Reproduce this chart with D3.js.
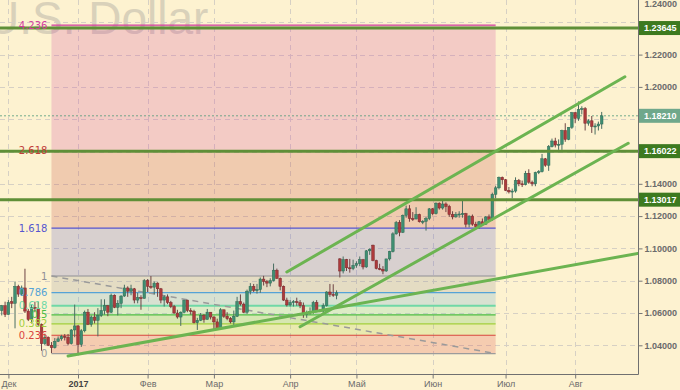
<!DOCTYPE html>
<html lang="ru">
<head>
<meta charset="UTF-8">
<title>EUR/USD D1</title>
<script src="https://cdn.jsdelivr.net/npm/d3@7"></script>
<style>
	body { margin: 0; background: #fdf2d0; }
	svg { display: block; }
</style>
</head>
<body>
<div id="chart"></div>
<script>
// дневные свечи, индекс 0 = 3 янв 2017 (праздники пропущены)
var startIndex = -24;
var opens = [
	// ноя-дек 2016
	1.0590,1.0615,1.0645,1.0590,1.0670,1.0660,1.0765,1.0717,1.0755,1.0612,1.0560,1.0635,1.0630,1.0530,1.0410,1.0450,1.0400,1.0385,1.0425,1.0440,1.0455,1.0450,1.0410,1.0495,
	// янв
	1.0520,1.0405,1.0490,1.0605,1.0530,1.0575,1.0555,1.0585,1.0615,1.0645,1.0605,1.0710,1.0635,1.0660,1.0705,1.0755,1.0735,1.0750,1.0680,1.0695,1.0690,
	// фев
	1.0800,1.0765,1.0760,1.0785,1.0750,1.0680,1.0700,1.0665,1.0640,1.0600,1.0575,1.0605,1.0680,1.0615,1.0610,1.0540,1.0555,1.0585,1.0560,1.0605,
	// мар
	1.0575,1.0545,1.0505,1.0620,1.0580,1.0565,1.0545,1.0580,1.0670,1.0655,1.0605,1.0735,1.0765,1.0740,1.0745,1.0810,1.0795,1.0785,1.0800,1.0865,1.0815,1.0765,1.0680,
	// апр
	1.0650,1.0665,1.0670,1.0665,1.0645,1.0590,1.0600,1.0610,1.0665,1.0615,1.0612,1.0645,1.0730,1.0715,1.0710,1.0935,1.0860,1.0930,1.0880,1.0875,
	// май
	1.0895,1.0905,1.0930,1.0885,1.0985,1.1020,1.0925,1.0875,1.0870,1.0860,1.0935,1.0980,1.1090,1.1160,1.1100,1.1205,1.1245,1.1185,1.1182,1.1210,1.1165,1.1168,1.1185,
	// июн
	1.1245,1.1215,1.1280,1.1250,1.1275,1.1260,1.1210,1.1195,1.1210,1.1213,1.1215,1.1150,1.1200,1.1150,1.1135,1.1165,1.1150,1.1195,1.1180,1.1335,1.1375,1.1440,
	// июл
	1.1425,1.1360,1.1350,1.1355,1.1420,1.1400,1.1395,1.1465,1.1410,1.1400,1.1470,1.1475,1.1555,1.1515,1.1630,1.1665,1.1640,1.1645,1.1730,1.1675,1.1750,
	// авг
	1.1840,1.1805,1.1860,1.1865,1.1775,1.1790,1.1755,1.1758,1.1770
];
var highs = [
	1.0652,1.0650,1.0670,1.0680,1.0700,1.0795,1.0775,1.0770,1.0874,1.0625,1.0650,1.0670,1.0668,1.0535,1.0472,1.0455,1.0420,1.0445,1.0455,1.0465,1.0470,1.0470,1.0500,1.0652,
	1.0525,1.0500,1.0615,1.0625,1.0585,1.0605,1.0630,1.0685,1.0685,1.0650,1.0720,1.0715,1.0680,1.0710,1.0775,1.0765,1.0775,1.0755,1.0725,1.0710,1.0810,
	1.0810,1.0829,1.0795,1.0790,1.0755,1.0710,1.0715,1.0675,1.0650,1.0620,1.0610,1.0680,1.0680,1.0630,1.0620,1.0570,1.0600,1.0595,1.0625,1.0605,
	1.0580,1.0565,1.0630,1.0620,1.0605,1.0575,1.0615,1.0700,1.0715,1.0665,1.0745,1.0785,1.0780,1.0780,1.0820,1.0830,1.0805,1.0815,1.0906,1.0875,1.0820,1.0770,1.0695,
	1.0680,1.0680,1.0695,1.0680,1.0665,1.0615,1.0635,1.0675,1.0680,1.0625,1.0660,1.0735,1.0780,1.0778,1.0740,1.0940,1.0950,1.0935,1.0935,1.0930,
	1.0920,1.0950,1.0935,1.0990,1.1000,1.1023,1.0930,1.0905,1.0890,1.0935,1.0985,1.1100,1.1170,1.1175,1.1210,1.1265,1.1268,1.1225,1.1255,1.1215,1.1175,1.1195,1.1250,
	1.1250,1.1285,1.1285,1.1295,1.1285,1.1270,1.1230,1.1225,1.1230,1.1295,1.1220,1.1205,1.1210,1.1165,1.1170,1.1185,1.1200,1.1210,1.1345,1.1388,1.1445,1.1445,
	1.1430,1.1380,1.1370,1.1440,1.1430,1.1420,1.1480,1.1490,1.1420,1.1475,1.1485,1.1585,1.1560,1.1640,1.1680,1.1685,1.1675,1.1735,1.1775,1.1750,1.1845,
	1.1845,1.1910,1.1880,1.1875,1.1800,1.1820,1.1775,1.1785,1.1845
];
var lows = [
	1.0580,1.0585,1.0575,1.0590,1.0630,1.0505,1.0700,1.0705,1.0600,1.0550,1.0535,1.0605,1.0520,1.0366,1.0400,1.0395,1.0352,1.0380,1.0420,1.0428,1.0430,1.0400,1.0405,1.0450,
	1.0340,1.0390,1.0480,1.0525,1.0515,1.0535,1.0455,1.0575,1.0590,1.0580,1.0600,1.0630,1.0585,1.0630,1.0700,1.0700,1.0710,1.0660,1.0660,1.0620,1.0690,
	1.0730,1.0750,1.0715,1.0700,1.0660,1.0640,1.0655,1.0630,1.0595,1.0565,1.0520,1.0600,1.0605,1.0590,1.0535,1.0495,1.0550,1.0540,1.0560,1.0560,
	1.0495,1.0495,1.0500,1.0570,1.0555,1.0535,1.0525,1.0575,1.0645,1.0600,1.0595,1.0715,1.0730,1.0720,1.0725,1.0770,1.0760,1.0765,1.0795,1.0810,1.0740,1.0675,1.0640,
	1.0640,1.0640,1.0645,1.0630,1.0570,1.0570,1.0590,1.0595,1.0605,1.0605,1.0600,1.0640,1.0700,1.0700,1.0685,1.0820,1.0845,1.0860,1.0850,1.0865,
	1.0880,1.0890,1.0870,1.0880,1.0960,1.0920,1.0870,1.0865,1.0840,1.0855,1.0925,1.0975,1.1085,1.1075,1.1095,1.1190,1.1165,1.1170,1.1180,1.1160,1.1150,1.1110,1.1175,
	1.1205,1.1210,1.1240,1.1240,1.1225,1.1195,1.1180,1.1190,1.1190,1.1190,1.1130,1.1130,1.1140,1.1130,1.1120,1.1140,1.1145,1.1165,1.1170,1.1310,1.1365,1.1395,
	1.1355,1.1340,1.1310,1.1345,1.1385,1.1380,1.1390,1.1400,1.1385,1.1385,1.1460,1.1470,1.1505,1.1480,1.1625,1.1625,1.1610,1.1610,1.1660,1.1670,1.1740,
	1.1775,1.1790,1.1830,1.1730,1.1760,1.1715,1.1705,1.1730,1.1740
];
var closes = [
	1.0615,1.0645,1.0590,1.0665,1.0660,1.0765,1.0717,1.0755,1.0612,1.0560,1.0635,1.0630,1.0530,1.0410,1.0450,1.0400,1.0385,1.0425,1.0440,1.0455,1.0450,1.0410,1.0495,1.0520,
	1.0405,1.0490,1.0605,1.0530,1.0575,1.0555,1.0585,1.0615,1.0645,1.0605,1.0710,1.0635,1.0660,1.0705,1.0755,1.0735,1.0750,1.0680,1.0695,1.0690,1.0800,
	1.0765,1.0760,1.0785,1.0750,1.0680,1.0700,1.0665,1.0640,1.0600,1.0575,1.0605,1.0680,1.0615,1.0610,1.0540,1.0555,1.0585,1.0560,1.0605,1.0575,
	1.0545,1.0505,1.0620,1.0580,1.0565,1.0545,1.0580,1.0670,1.0655,1.0605,1.0735,1.0765,1.0740,1.0745,1.0810,1.0795,1.0785,1.0800,1.0865,1.0815,1.0765,1.0680,1.0650,
	1.0665,1.0670,1.0665,1.0645,1.0590,1.0600,1.0610,1.0665,1.0615,1.0612,1.0645,1.0730,1.0715,1.0710,1.0725,1.0860,1.0930,1.0880,1.0875,1.0895,
	1.0905,1.0930,1.0885,1.0985,1.0995,1.0925,1.0875,1.0870,1.0860,1.0935,1.0980,1.1090,1.1160,1.1100,1.1205,1.1245,1.1185,1.1182,1.1210,1.1165,1.1168,1.1185,1.1245,
	1.1215,1.1280,1.1250,1.1275,1.1260,1.1210,1.1195,1.1210,1.1213,1.1215,1.1150,1.1200,1.1150,1.1135,1.1165,1.1150,1.1195,1.1180,1.1335,1.1375,1.1440,1.1425,
	1.1360,1.1350,1.1355,1.1420,1.1400,1.1395,1.1465,1.1410,1.1400,1.1470,1.1475,1.1555,1.1515,1.1630,1.1665,1.1640,1.1645,1.1730,1.1675,1.1750,1.1840,
	1.1805,1.1860,1.1865,1.1775,1.1790,1.1755,1.1758,1.1770,1.1821
];

// ось времени: подписи месяцев и индекс их первой свечи
var monthLabels = ["Дек", "2017", "Фев", "Мар", "Апр", "Май", "Июн", "Июл", "Авг"];
var monthIndex  = [-21, 0, 21, 41, 64, 84, 107, 129, 150];

// ценовая шкала
var priceTicks = [1.04, 1.06, 1.08, 1.10, 1.12, 1.14, 1.16, 1.18, 1.20, 1.22, 1.24];

// уровни Фибоначчи
var fibLevels = [0, 0.236, 0.382, 0.5, 0.618, 0.786, 1, 1.618, 2.618, 4.236];
var fibLabels = ["0", "0.236", "0.382", "0.5", "0.618", "0.786", "1", "1.618", "2.618", "4.236"];
var fibColors = ["#9c9c9c", "#d9443e", "#a3cf3c", "#4cbd45", "#6fd8a6", "#55a3d6", "#8f8f96", "#5656cf", "#c2403a", "#d3409e"];
var fibPrice = [1.0349, 1.0829];   // 0 и 1
var fibSpan  = [-8, 126];          // от свечи до свечи

// горизонтальные уровни и последняя цена
var levels = [1.23645, 1.16022, 1.13017];
var lastPrice = 1.18210;

// трендовые линии [индекс1, цена1, индекс2, цена2]
var trendA = [63, 1.0854, 165, 1.2063];
var trendB = [67, 1.0515, 166, 1.1651];
var trendC = [-3, 1.0334, 173, 1.0984];
var trends = [trendA, trendB, trendC];

window.onload = function(){
	var W = 680, H = 390;
	var plotR = 638.5, plotB = 374.5;

	var svg = d3.select("#chart").append("svg")
		.attr("width", W).attr("height", H)
		.style("font-family", "'Liberation Sans', Arial, sans-serif");

	svg.append("rect").attr("width", W).attr("height", H).attr("fill", "#fdf2d0");

	var x = d3.scaleLinear().domain([0, 158]).range([78, 601.7]);
	var y = d3.scaleLinear().domain([1.04, 1.24]).range([345.3, 22.3]);

	svg.append("clipPath").attr("id", "plot")
		.append("rect").attr("width", plotR).attr("height", plotB);

	// водяной знак
	svg.append("text")
		.attr("x", -14).attr("y", 34)
		.attr("font-size", 46)
		.attr("fill", "#a8a49c").attr("opacity", 0.42)
		.text("U.S. Dollar");

	var plot = svg.append("g").attr("clip-path", "url(#plot)");

	// сетка
	plot.append("g").selectAll("line").data(priceTicks).enter().append("line")
		.attr("x1", 0).attr("x2", plotR)
		.attr("y1", function(d){ return Math.round(y(d)) + 0.5; })
		.attr("y2", function(d){ return Math.round(y(d)) + 0.5; })
		.attr("stroke", "#d6d0c4").attr("stroke-dasharray", "5,4");
	plot.append("g").selectAll("line").data(monthIndex).enter().append("line")
		.attr("y1", 0).attr("y2", plotB)
		.attr("x1", function(d){ return Math.round(x(d)) + 0.5; })
		.attr("x2", function(d){ return Math.round(x(d)) + 0.5; })
		.attr("stroke", "#d6d0c4").attr("stroke-dasharray", "5,4");

	// фибо: заливки и линии
	var fy = function(l){ return y(fibPrice[0] + l * (fibPrice[1] - fibPrice[0])); };
	var fx0 = x(fibSpan[0]), fx1 = x(fibSpan[1]);
	var bands = d3.range(1, fibLevels.length);
	plot.append("g").selectAll("rect").data(bands).enter().append("rect")
		.attr("x", fx0).attr("width", fx1 - fx0)
		.attr("y", function(i){ return fy(fibLevels[i]); })
		.attr("height", function(i){ return fy(fibLevels[i-1]) - fy(fibLevels[i]); })
		.attr("fill", function(i){ return fibColors[i]; })
		.attr("fill-opacity", 0.22);
	plot.append("g").selectAll("line").data(fibLevels).enter().append("line")
		.attr("x1", fx0).attr("x2", fx1)
		.attr("y1", function(d){ return fy(d); }).attr("y2", function(d){ return fy(d); })
		.attr("stroke", function(d,i){ return fibColors[i]; })
		.attr("stroke-width", function(d){ return d === 0.618 ? 2 : 1.2; });
	plot.append("line")
		.attr("x1", fx0).attr("y1", fy(1)).attr("x2", fx1).attr("y2", fy(0))
		.attr("stroke", "#9a9a9a").attr("stroke-width", 1.5).attr("stroke-dasharray", "6,5");
	svg.append("g").selectAll("text").data(fibLevels).enter().append("text")
		.attr("x", fx0 - 4).attr("y", function(d){ return fy(d); })
		.attr("dy", "0.35em").attr("text-anchor", "end")
		.attr("font-family", "'DejaVu Sans', sans-serif").attr("font-size", 10)
		.attr("fill", function(d,i){ return fibColors[i]; })
		.text(function(d,i){ return fibLabels[i]; });

	// последняя цена
	plot.append("line")
		.attr("x1", 0).attr("x2", plotR)
		.attr("y1", y(lastPrice)).attr("y2", y(lastPrice))
		.attr("stroke", "#4f9a7a").attr("stroke-width", 0.8).attr("stroke-dasharray", "2,2");

	// свечи
	var candles = opens.map(function(o, k){
		return { i: k + startIndex, o: o, h: highs[k], l: lows[k], c: closes[k] };
	});
	var cg = plot.append("g").selectAll("g").data(candles).enter().append("g");
	cg.append("line")
		.attr("x1", function(d){ return x(d.i); }).attr("x2", function(d){ return x(d.i); })
		.attr("y1", function(d){ return y(d.h); }).attr("y2", function(d){ return y(d.l); })
		.attr("stroke", function(d){ return d.c >= d.o ? "#4a6e62" : "#6e4444"; })
		.attr("stroke-width", 1);
	cg.append("rect")
		.attr("x", function(d){ return x(d.i) - 1.3; })
		.attr("width", 2.6)
		.attr("y", function(d){ return y(Math.max(d.o, d.c)); })
		.attr("height", function(d){ return Math.max(1, Math.abs(y(d.o) - y(d.c))); })
		.attr("fill", function(d){ return d.c >= d.o ? "#3f8f72" : "#ad3a3c"; })
		.attr("stroke", function(d){ return d.c >= d.o ? "#2f6a55" : "#7c2b2d"; })
		.attr("stroke-width", 0.5);

	// горизонтальные уровни
	plot.append("g").selectAll("line").data(levels).enter().append("line")
		.attr("x1", 0).attr("x2", plotR)
		.attr("y1", function(d){ return y(d); }).attr("y2", function(d){ return y(d); })
		.attr("stroke", "#5f8f37").attr("stroke-width", 3);

	// трендовые линии
	plot.append("g").selectAll("line").data(trends).enter().append("line")
		.attr("x1", function(d){ return x(d[0]); }).attr("y1", function(d){ return y(d[1]); })
		.attr("x2", function(d){ return x(d[2]); }).attr("y2", function(d){ return y(d[3]); })
		.attr("stroke", "#6cb451").attr("stroke-width", 3).attr("stroke-linecap", "round");

	// метки уровней на шкале
	var tags = levels.map(function(v){ return { v: v, fill: "#3d7a1f" }; })
		.concat([{ v: lastPrice, fill: "#6fa88b" }]);

	// оси
	var yAxis = d3.axisRight(y).tickValues(priceTicks).tickFormat(d3.format(".5f")).tickSize(4).tickPadding(2);
	var gy = svg.append("g").attr("transform", "translate(" + plotR + ",0)").call(yAxis);
	gy.select(".domain").remove();
	gy.selectAll("line").attr("stroke", "#777");
	gy.selectAll("text").attr("font-size", 9).attr("font-weight", "bold").attr("fill", "#6b6b6b")
		.attr("font-family", "'Liberation Sans', Arial, sans-serif");
	// подпись, которую закрывает метка: выше метки сдвигаем, ниже прячем
	gy.selectAll(".tick text").each(function(d){
		var t = d3.select(this);
		tags.forEach(function(g){
			var dy = y(d) - y(g.v);
			if (Math.abs(dy) < 12) {
				if (d > g.v) t.attr("y", -dy - 24 + y(d) - y(d));
				else t.attr("display", "none");
			}
		});
	});

	var xAxis = d3.axisBottom(x).tickValues(monthIndex)
		.tickFormat(function(d,i){ return monthLabels[i]; }).tickSize(4).tickPadding(2);
	var gx = svg.append("g").attr("transform", "translate(0," + plotB + ")").call(xAxis);
	gx.select(".domain").remove();
	gx.selectAll("line").attr("stroke", "#777");
	gx.selectAll("text").attr("font-size", 9)
		.attr("font-family", "'Liberation Sans', Arial, sans-serif")
		.attr("font-weight", function(d,i){ return monthLabels[i] === "2017" ? "bold" : "normal"; })
		.attr("fill", function(d,i){ return monthLabels[i] === "2017" ? "#444" : "#6b6b6b"; });

	svg.append("line").attr("x1", plotR).attr("x2", plotR).attr("y1", 0).attr("y2", plotB)
		.attr("stroke", "#707070");
	svg.append("line").attr("x1", 0).attr("x2", plotR).attr("y1", plotB).attr("y2", plotB)
		.attr("stroke", "#707070");

	var tg = svg.append("g").selectAll("g").data(tags).enter().append("g")
		.attr("transform", function(d){ return "translate(" + (plotR + 0.5) + "," + y(d.v) + ")"; });
	tg.append("rect").attr("x", 0).attr("y", -7).attr("width", W - plotR).attr("height", 14)
		.attr("fill", function(d){ return d.fill; });
	tg.append("text").attr("x", 5).attr("dy", "0.35em")
		.attr("font-size", 9).attr("font-weight", "bold").attr("fill", "#fff")
		.text(function(d){ return d3.format(".5f")(d.v); });
};
</script>
</body>
</html>
